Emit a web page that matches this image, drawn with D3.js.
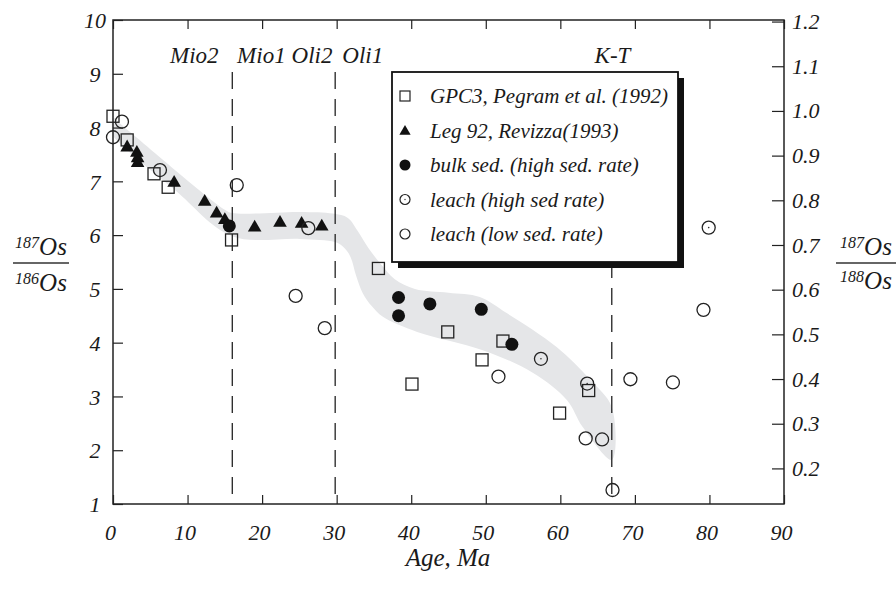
<!DOCTYPE html>
<html><head><meta charset="utf-8">
<script src="https://cdn.jsdelivr.net/npm/d3@7"></script>
<style>
body{margin:0;background:#fff;}
svg text{font-family:"Liberation Serif","Times New Roman","DejaVu Serif",serif;font-style:italic;fill:#1a1a1a;}
</style></head>
<body><svg id="c" width="896" height="592"></svg>
<script>
// ---------- data ----------
const xTicks = [0,10,20,30,40,50,60,70,80,90];
const yLeftTicks = [1,2,3,4,5,6,7,8,9,10];
const yRightTicks = [0.2,0.3,0.4,0.5,0.6,0.7,0.8,0.9,1.0,1.1,1.2];
const yRightLabels = ["0.2","0.3","0.4","0.5","0.6","0.7","0.8","0.9","1.0","1.1","1.2"];
const ratio188to186 = 0.12035;
// age (Ma), 187Os/186Os
const gpc3 = [[0,8.21],[1.9,7.77],[5.5,7.14],[7.4,6.89],[15.9,5.91],[35.6,5.38],[44.9,4.20],[52.3,4.03],[49.5,3.68],[40.1,3.23],[63.8,3.11],[59.9,2.69]];
const leg92 = [[1.9,7.63],[3.2,7.53],[3.3,7.43],[3.3,7.34],[8.2,6.97],[12.3,6.62],[13.9,6.40],[15.0,6.28],[19.0,6.14],[22.4,6.23],[25.3,6.21],[28.0,6.16]];
const bulk = [[15.6,6.17],[38.3,4.84],[38.3,4.50],[42.5,4.72],[49.4,4.62],[53.5,3.97]];
const leachHigh = [[57.4,3.70],[63.6,3.24],[79.9,6.14]];
const leachLow = [[0,7.82],[1.2,8.11],[6.3,7.21],[16.6,6.93],[26.2,6.13],[24.5,4.87],[28.4,4.27],[51.7,3.37],[63.4,2.22],[65.6,2.20],[67.0,1.26],[69.4,3.32],[75.1,3.26],[79.2,4.61]];
// gray envelope: upper edge (left->right) then lower edge (right->left)
const bandUpper = [[0,8.18],[0.9,8.08],[15.0,6.47],[16,6.41],[25.1,6.43],[29.5,6.40],[31.5,6.32],[32.8,6.08],[34.3,5.75],[36.0,5.45],[37.8,5.18],[40.5,5.00],[45,4.93],[49.2,4.85],[52.8,4.55],[59.5,3.92],[64.0,3.31],[66.9,2.80]];
const bandLower = [[66.9,1.82],[63.0,2.43],[60.9,2.93],[56.3,3.44],[49.6,3.86],[40.8,4.20],[36.2,4.48],[34.7,4.68],[33.5,4.92],[32.6,5.25],[31.9,5.58],[31.1,5.75],[29.8,5.87],[25.1,5.93],[16,5.98],[8.3,6.84],[0.9,7.71],[0,7.86]];
const epochs = [{name:"Mio2",age:null,lx:10.9},{name:"Mio1",age:16.0,lx:19.9},{name:"Oli2",age:null,lx:26.7},{name:"Oli1",age:29.8,lx:33.5},{name:"K-T",age:66.9,lx:67.0}];
const legendItems = ["GPC3, Pegram et al. (1992)","Leg 92, Revizza(1993)","bulk sed. (high sed. rate)","leach (high sed rate)","leach (low sed. rate)"];

// ---------- layout ----------
const L=113, R=784, T=20, B=504;
const svg = d3.select("#c");
const x = d3.scaleLinear().domain([0,90]).range([L,R]);
const y = d3.scaleLinear().domain([1,10]).range([B,T]);
const y2 = d3.scaleLinear().domain([1*ratio188to186,10*ratio188to186]).range([B,T]);

// band
const bandPts = bandUpper.concat(bandLower);
svg.append("path")
  .attr("d", d3.line().x(d=>x(d[0])).y(d=>y(d[1])).curve(d3.curveCatmullRomClosed.alpha(0.5))(bandPts))
  .attr("fill","#e5e6e8").attr("stroke","none");

// dashed epoch lines
epochs.filter(e=>e.age!==null).forEach(e=>{
  svg.append("line").attr("x1",x(e.age)).attr("x2",x(e.age)).attr("y1",72).attr("y2",B)
    .attr("stroke","#222").attr("stroke-width",1.3).attr("stroke-dasharray","17,10");
});
epochs.forEach(e=>{
  svg.append("text").attr("x",x(e.lx)).attr("y",63).attr("text-anchor","middle")
    .attr("font-size",23).text(e.name);
});

// frame
svg.append("rect").attr("x",L).attr("y",T).attr("width",R-L).attr("height",B-T)
  .attr("fill","none").attr("stroke","#222").attr("stroke-width",1.5);

// axes (ticks inward)
const gB = svg.append("g").attr("transform",`translate(0,${B})`)
  .call(d3.axisBottom(x).tickValues(xTicks).tickSizeInner(-9).tickSizeOuter(0).tickPadding(20));
const gT = svg.append("g").attr("transform",`translate(0,${T})`)
  .call(d3.axisTop(x).tickValues(xTicks).tickSizeInner(-9).tickSizeOuter(0).tickFormat(""));
const gL = svg.append("g").attr("transform",`translate(${L},0)`)
  .call(d3.axisLeft(y).tickValues(yLeftTicks).tickSizeInner(-10).tickSizeOuter(0).tickPadding(17));
const gR = svg.append("g").attr("transform",`translate(${R},0)`)
  .call(d3.axisRight(y2).tickValues(yRightTicks).tickSizeInner(-12).tickSizeOuter(0).tickPadding(20)
    .tickFormat((d,i)=>yRightLabels[i]));
[gB,gT,gL,gR].forEach(g=>{
  g.select(".domain").remove();
  g.selectAll("line").attr("stroke","#222").attr("stroke-width",1.2);
  g.selectAll("text").attr("font-size",22).attr("font-family","Liberation Serif").attr("font-style","italic").attr("fill","#1a1a1a");
});
gB.selectAll("text").attr("dx",-3);
gL.selectAll("text").attr("text-anchor","middle").attr("x",-18).attr("dy","0.35em");
gR.selectAll("text").attr("x",8);

// points
const g = svg.append("g");
const sq = 12;
g.selectAll("rect.gpc").data(gpc3).join("rect").attr("class","gpc")
  .attr("x",d=>x(d[0])-sq/2).attr("y",d=>y(d[1])-sq/2).attr("width",sq).attr("height",sq)
  .attr("fill","none").attr("stroke","#222").attr("stroke-width",1.3);
const tri = d3.symbol().type(d3.symbolTriangle).size(80);
g.selectAll("path.leg").data(leg92).join("path").attr("class","leg")
  .attr("transform",d=>`translate(${x(d[0])},${y(d[1])})`).attr("d",tri).attr("fill","#111");
g.selectAll("circle.bulk").data(bulk).join("circle").attr("class","bulk")
  .attr("cx",d=>x(d[0])).attr("cy",d=>y(d[1])).attr("r",6.5).attr("fill","#111");
g.selectAll("circle.lh").data(leachHigh).join("circle").attr("class","lh")
  .attr("cx",d=>x(d[0])).attr("cy",d=>y(d[1])).attr("r",6.5).attr("fill","none").attr("stroke","#222").attr("stroke-width",1.3);
g.selectAll("circle.lhd").data(leachHigh).join("circle").attr("class","lhd")
  .attr("cx",d=>x(d[0])).attr("cy",d=>y(d[1])).attr("r",0.8).attr("fill","#333");
g.selectAll("circle.ll").data(leachLow).join("circle").attr("class","ll")
  .attr("cx",d=>x(d[0])).attr("cy",d=>y(d[1])).attr("r",6.5).attr("fill","none").attr("stroke","#222").attr("stroke-width",1.3);

// legend
const lg = svg.append("g");
lg.append("rect").attr("x",398).attr("y",78).attr("width",286).attr("height",190).attr("fill","#111");
lg.append("rect").attr("x",392).attr("y",72).attr("width",286).attr("height",190).attr("fill","#fff").attr("stroke","#111").attr("stroke-width",1.8);
const rowY = i=>96+i*34.5;
legendItems.forEach((t,i)=>{
  lg.append("text").attr("x",430).attr("y",rowY(i)+7).attr("font-size",21).text(t);
});
lg.append("rect").attr("x",400).attr("y",rowY(0)-5).attr("width",10).attr("height",10).attr("fill","none").attr("stroke","#222").attr("stroke-width",1.2);
lg.append("path").attr("transform",`translate(405,${rowY(1)+1})`).attr("d",d3.symbol().type(d3.symbolTriangle).size(55)).attr("fill","#111");
lg.append("circle").attr("cx",405).attr("cy",rowY(2)).attr("r",5.5).attr("fill","#111");
lg.append("circle").attr("cx",405).attr("cy",rowY(3)).attr("r",5).attr("fill","none").attr("stroke","#222").attr("stroke-width",1.2);
lg.append("circle").attr("cx",405).attr("cy",rowY(3)).attr("r",0.7).attr("fill","#333");
lg.append("circle").attr("cx",405).attr("cy",rowY(4)).attr("r",5).attr("fill","none").attr("stroke","#222").attr("stroke-width",1.2);

// axis titles
svg.append("text").attr("x",448).attr("y",566).attr("text-anchor","middle").attr("font-size",25).text("Age, Ma");
function fraction(cx, yNum, yDen, lineY, x1, x2, sup1, sup2){
  const t1 = svg.append("text").attr("x",cx).attr("y",yNum).attr("text-anchor","middle").attr("font-size",25);
  t1.append("tspan").attr("font-size",16).attr("dy",-7).text(sup1);
  t1.append("tspan").attr("dy",7).text("Os");
  svg.append("line").attr("x1",x1).attr("x2",x2).attr("y1",lineY).attr("y2",lineY).attr("stroke","#333").attr("stroke-width",1.3);
  const t2 = svg.append("text").attr("x",cx).attr("y",yDen).attr("text-anchor","middle").attr("font-size",25);
  t2.append("tspan").attr("font-size",16).attr("dy",-7).text(sup2);
  t2.append("tspan").attr("dy",7).text("Os");
}
fraction(41,255,291,263,13,69,"187","186");
fraction(866,255,289,263,836,896,"187","188");
</script></body></html>
